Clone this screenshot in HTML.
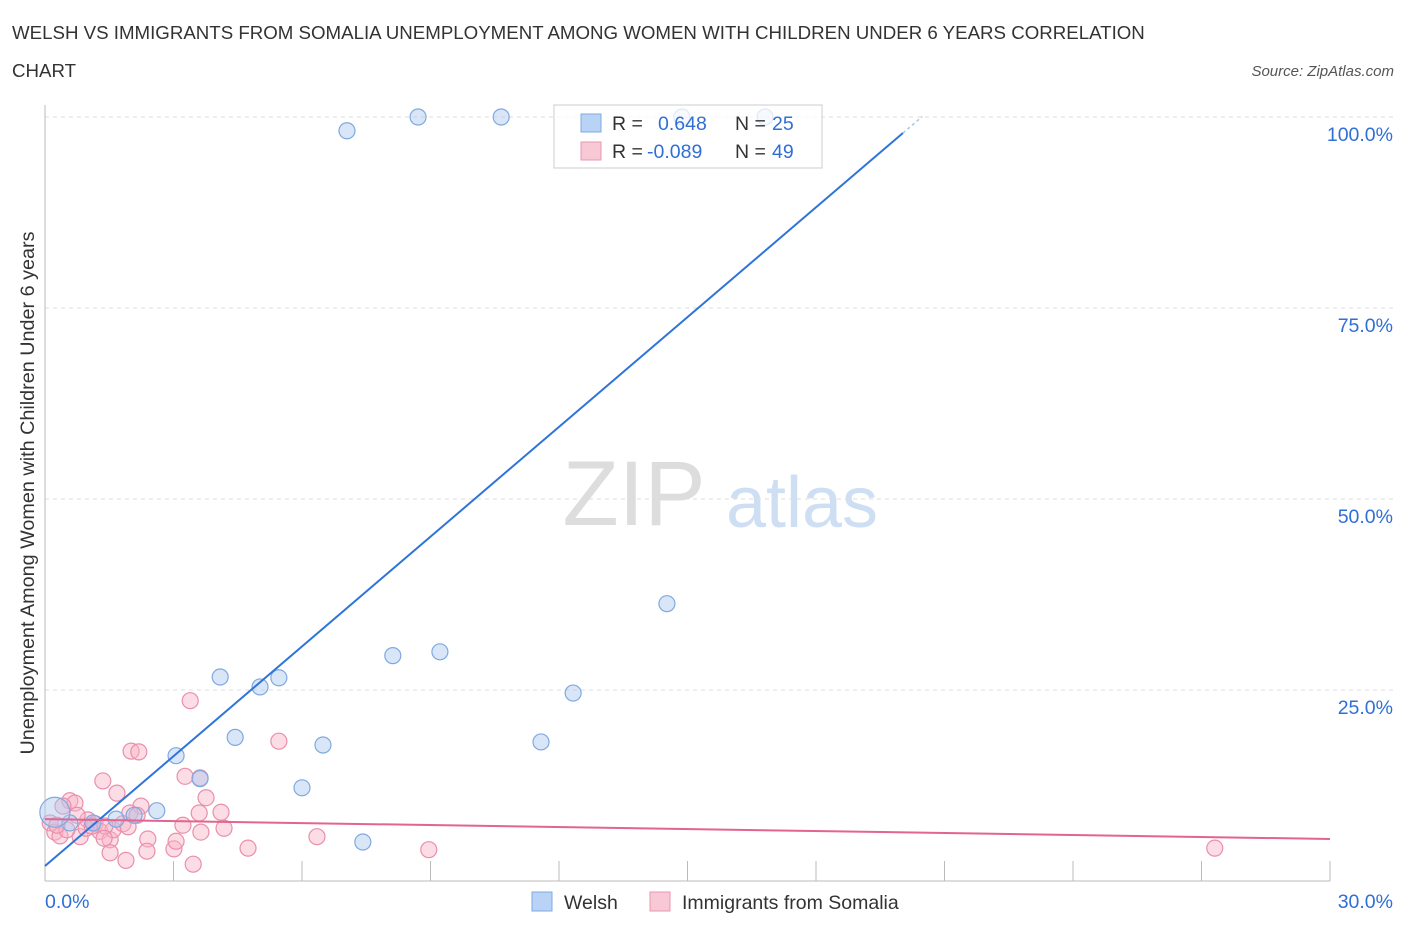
<!DOCTYPE html>
<html><head><meta charset="utf-8"><style>
body{margin:0;background:#fff;font-family:"Liberation Sans",sans-serif;}
svg text{font-family:"Liberation Sans",sans-serif;}
</style></head><body>
<svg id="c" width="1406" height="930">
<text x="12" y="39" font-size="18.7" fill="#333">WELSH VS IMMIGRANTS FROM SOMALIA UNEMPLOYMENT AMONG WOMEN WITH CHILDREN UNDER 6 YEARS CORRELATION</text>
<text x="12" y="77" font-size="18.7" fill="#333">CHART</text>
<text x="1394" y="76" font-size="15" fill="#555" font-style="italic" text-anchor="end">Source: ZipAtlas.com</text>
<text x="634" y="525" font-size="92" fill="#ddd" font-family="Liberation Serif" text-anchor="middle">ZIP</text>
<text x="802" y="527" font-size="72" fill="#cfdff3" text-anchor="middle">atlas</text>
<text transform="translate(34,493) rotate(-90)" font-size="19.8" fill="#333" text-anchor="middle">Unemployment Among Women with Children Under 6 years</text>
<g id="grid"></g><g id="marks"></g>
<g>
<rect x="554" y="105" width="268" height="63" fill="rgba(255,255,255,0.75)" stroke="#ccc"/>
<rect x="581" y="114" width="20" height="18" fill="#b8d3f5" stroke="#7fa9e0"/>
<text x="612" y="130" font-size="19.5" fill="#333">R =</text><text x="658" y="130" font-size="19.5" fill="#2f6fd6">0.648</text>
<text x="735" y="130" font-size="19.5" fill="#333">N =</text><text x="772" y="130" font-size="19.5" fill="#2f6fd6">25</text>
<rect x="581" y="142" width="20" height="18" fill="#f8c8d6" stroke="#e897b0"/>
<text x="612" y="158" font-size="19.5" fill="#333">R =</text><text x="647" y="158" font-size="19.5" fill="#2f6fd6">-0.089</text>
<text x="735" y="158" font-size="19.5" fill="#333">N =</text><text x="772" y="158" font-size="19.5" fill="#2f6fd6">49</text>
</g>
<g>
<rect x="532" y="892" width="20" height="19" fill="#b8d3f5" stroke="#7fa9e0"/>
<text x="564" y="909" font-size="19.5" fill="#333">Welsh</text>
<rect x="650" y="892" width="20" height="19" fill="#f8c8d6" stroke="#e897b0"/>
<text x="682" y="909" font-size="19.5" fill="#333">Immigrants from Somalia</text>
</g>
</svg>
<script>
const welshX=[7.05,8.71,10.65,14.87,16.81,14.52,9.22,8.12,12.33,4.09,5.02,5.46,4.44,6.49,11.58,3.06,6.0,3.62,2.61,2.08,1.66,7.42,1.12,0.58,0.23];
const welshY=[98.2,100,100,100,100,36.3,30.0,29.5,24.6,26.7,25.4,26.6,18.8,17.8,18.2,16.4,12.2,13.4,9.2,8.6,8.1,5.1,7.6,7.6,9.0];
const somX=[3.39,2.01,2.19,5.46,1.35,3.62,3.76,1.68,2.24,4.11,3.6,0.58,0.7,0.42,0.12,0.23,0.35,0.82,1.0,1.17,1.28,1.52,1.59,1.82,1.94,1.98,2.4,1.52,1.89,2.38,3.01,3.06,3.22,3.64,4.18,3.46,4.74,6.35,8.96,27.31,0.96,0.51,0.28,1.1,1.4,2.15,0.75,3.27,1.38];
const somY=[23.6,17.0,16.9,18.3,13.1,13.5,10.9,11.5,9.8,9.0,8.9,10.5,10.2,9.8,7.6,6.4,5.9,5.8,8.0,7.5,6.5,5.4,6.7,7.5,7.1,8.9,5.5,3.7,2.7,3.9,4.2,5.2,7.3,6.4,6.9,2.2,4.3,5.8,4.1,4.3,6.9,6.7,7.3,7.2,7.2,8.6,8.6,13.7,5.6];
const yTicks=[25,50,75,100];
const xTickVals=[0,3,6,9,12,15,18,21,24,27,30];
const welshLine=[[0,1.96],[20.03,97.9]];
const somLine=[[0,8.1],[30,5.5]];
const NS="http://www.w3.org/2000/svg";
const X=v=>45+v/30*1285, Y=v=>881-v/100*764;
function mk(p,t,a){const e=document.createElementNS(NS,t);for(const k in a)e.setAttribute(k,a[k]);p.appendChild(e);return e;}
const g=document.getElementById('grid'),m=document.getElementById('marks');
yTicks.forEach(t=>{
 const l=mk(g,'line',{x1:45,x2:1394,y1:Y(t),y2:Y(t),stroke:'#ddd','stroke-dasharray':'4,4'});
 
 
 const tx=mk(g,'text',{x:1393,y:Y(t)+24,'font-size':19.5,fill:'#2f6fd6','text-anchor':'end'});tx.textContent=t.toFixed(1)+'%';
 
 
});
const ax=mk(g,'line',{x1:45,x2:45,y1:105,y2:881,stroke:'#bbb'});

const bx=mk(g,'line',{x1:45,x2:1330,y1:881,y2:881,stroke:'#bbb'});

xTickVals.forEach(t=>{
 const l=mk(g,'line',{x1:X(t),x2:X(t),y1:861,y2:881,stroke:'#bbb'});
 
 
});
[[0,'start'],[30,'end']].forEach(([t,a])=>{
 const tx=mk(g,'text',{x:t?1393:45,y:908,'font-size':19.5,fill:'#2f6fd6','text-anchor':a});tx.textContent=t.toFixed(1)+'%';
 
 
});
somX.forEach((v,i)=>{
 const c=mk(m,'circle',{cx:X(v),cy:Y(somY[i]),r:8,fill:'rgba(248,180,200,0.45)',stroke:'#e98fac','stroke-width':1.2});
 
 
});
welshX.forEach((v,i)=>{
 const c=mk(m,'circle',{cx:X(v),cy:Y(welshY[i]),r:i==24?15:8,fill:'rgba(170,200,240,0.45)',stroke:'#7fa9e0','stroke-width':1.2});
 
 
});
const sl=(welshLine[1][1]-welshLine[0][1])/(welshLine[1][0]-welshLine[0][0]);
const wl=mk(m,'line',{x1:X(welshLine[0][0]),y1:Y(welshLine[0][1]),x2:X(welshLine[1][0]),y2:Y(welshLine[1][1]),stroke:'#2f74d9','stroke-width':2});

const xe=welshLine[1][0]+0.45;
const wd=mk(m,'line',{x1:X(welshLine[1][0]),y1:Y(welshLine[1][1]),x2:X(xe),y2:Y(welshLine[0][1]+sl*xe),stroke:'#aac4ea','stroke-width':1.5,'stroke-dasharray':'3,3'});

const pl=mk(m,'line',{x1:X(somLine[0][0]),y1:Y(somLine[0][1]),x2:X(somLine[1][0]),y2:Y(somLine[1][1]),stroke:'#e2648f','stroke-width':2});

</script>
</body></html>
